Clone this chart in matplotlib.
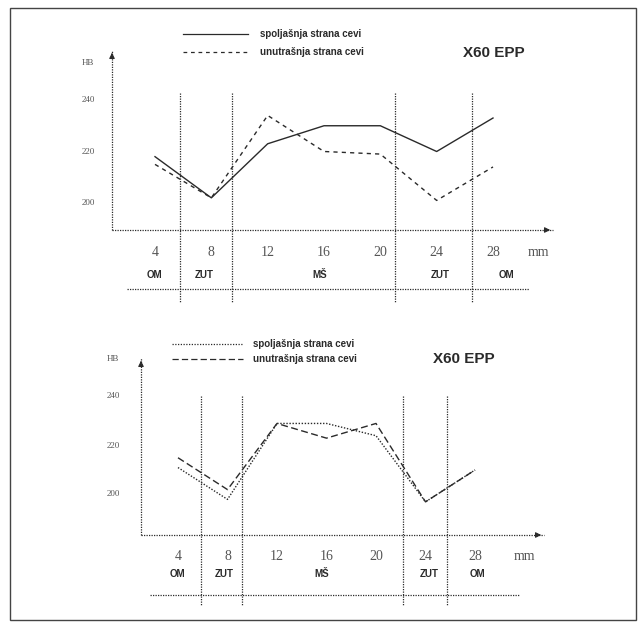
import matplotlib
matplotlib.use("Agg")
import matplotlib.pyplot as plt
from matplotlib.patches import Rectangle

W, H = 643, 626

# data
mm = [4, 8, 12, 16, 20, 24, 28]
top_outer = [218, 202, 223, 230, 230, 220, 233]
top_inner = [215, 202, 234, 220, 219, 201, 214]
bot_outer = [211, 198, 229, 229, 224, 197, 210]
bot_inner = [215, 202, 229, 223, 229, 197, 210]
hb_ticks = [240, 220, 200]
top_hb_labels = ["240", "220", "200"]
bot_hb_labels = ["240", "220", "200"]
zones = ["OM", "ZUT", "MŠ", "ZUT", "OM"]
legend_labels = ["spoljašnja strana cevi", "unutrašnja strana cevi"]
title = "X60 EPP"

INK = "#2a2a2a"
GREY = "#555555"

# pixel layout of the two panels (y measured from top of the image)
top_lay = dict(x4=155, x28=493, y240=100, y200=203,
               yaxis_x=112, yaxis_top=50, xaxis_y=230, xaxis_end=553,
               vlines=[180, 232, 395, 472], vl_top=93, vl_bot=303,
               tick_y=252, zone_y=275, zone_x=[154, 204, 320, 440, 506],
               table=(127, 529, 289), hb_x=88, hb_y=63, mm_x=538,
               leg_x=(183, 248), leg_y=(34, 52), leg_tx=260,
               title_x=463, title_y=53)
bot_lay = dict(x4=178, x28=475, y240=396.5, y200=494.5,
               yaxis_x=141, yaxis_top=358, xaxis_y=535, xaxis_end=544,
               vlines=[201, 242, 403, 447], vl_top=396, vl_bot=606,
               tick_y=556, zone_y=574, zone_x=[177, 224, 322, 429, 477],
               table=(150, 519, 595), hb_x=113, hb_y=359, mm_x=524,
               leg_x=(172, 243), leg_y=(344, 359), leg_tx=253,
               title_x=433, title_y=359)


def draw_panel(fig, lay, outer, inner, styles, hb_labels):
    b = (lay["x28"] - lay["x4"]) / 24.0
    a = lay["x4"] - 4 * b
    d = (lay["y200"] - lay["y240"]) / 40.0
    c = lay["y200"] + 200 * d

    def X(px):
        return (px - a) / b

    def Y(py):
        return (c - py) / d

    ax = fig.add_axes([0, 0, 1, 1])
    ax.set_xlim(X(0), X(W))
    ax.set_ylim(Y(H), Y(0))
    ax.axis("off")
    ax.patch.set_alpha(0)

    dot = dict(color=INK, lw=0.9, ls=(0, (1, 1)))

    # axes
    ax.plot([X(lay["yaxis_x"])] * 2, [Y(lay["xaxis_y"]), Y(lay["yaxis_top"])], **dot)
    ax.plot([X(lay["yaxis_x"]), X(lay["xaxis_end"])], [Y(lay["xaxis_y"])] * 2, **dot)
    ax.annotate("", xy=(X(lay["yaxis_x"]), Y(lay["yaxis_top"])),
                xytext=(X(lay["yaxis_x"]), Y(lay["yaxis_top"] + 8)),
                arrowprops=dict(arrowstyle="-|>", color=INK, lw=0.8,
                                mutation_scale=8))
    ax.annotate("", xy=(X(lay["xaxis_end"]), Y(lay["xaxis_y"])),
                xytext=(X(lay["xaxis_end"] - 10), Y(lay["xaxis_y"])),
                arrowprops=dict(arrowstyle="-|>", color=INK, lw=0.8,
                                mutation_scale=8))

    # zone boundaries and table rule
    for v in lay["vlines"]:
        ax.plot([X(v)] * 2, [Y(lay["vl_top"]), Y(lay["vl_bot"])], **dot)
    x0, x1, ty = lay["table"]
    ax.plot([X(x0), X(x1)], [Y(ty)] * 2, **dot)

    # series
    ax.plot(mm, outer, color=INK, lw=1.0, ls=styles[0])
    ax.plot(mm, inner, color=INK, lw=1.0, ls=styles[1])

    # y labels
    ax.text(X(lay["hb_x"]), Y(lay["hb_y"]), "HB", fontsize=6.5,
            family="Liberation Serif", color=GREY, ha="center", va="center")
    for v, s in zip(hb_ticks, hb_labels):
        ax.text(X(lay["hb_x"]), v, s, fontsize=6.5, family="Liberation Serif",
                color=GREY, ha="center", va="center")

    # x labels
    for m in mm:
        ax.text(m, Y(lay["tick_y"]), str(m), fontsize=10,
                family="Liberation Serif", color=GREY, ha="center", va="center")
    ax.text(X(lay["mm_x"]), Y(lay["tick_y"]), "mm", fontsize=10,
            family="Liberation Serif", color=GREY, ha="center", va="center")
    for zx, z in zip(lay["zone_x"], zones):
        ax.text(X(zx), Y(lay["zone_y"]), z, fontsize=7, fontweight="bold",
                family="Liberation Sans", color=INK, ha="center", va="center")

    # legend and title
    for ly, st, lab in zip(lay["leg_y"], styles, legend_labels):
        ax.plot([X(lay["leg_x"][0]), X(lay["leg_x"][1])], [Y(ly)] * 2,
                color=INK, lw=0.9, ls=st)
        ax.text(X(lay["leg_tx"]), Y(ly), lab, fontsize=7, fontweight="bold",
                family="Liberation Sans", color=INK, ha="left", va="center")
    ax.text(X(lay["title_x"]), Y(lay["title_y"]), title, fontsize=11,
            fontweight="bold", family="Liberation Sans", color=INK,
            ha="left", va="center")


fig = plt.figure(figsize=(W / 100, H / 100), dpi=100)
fig.patch.set_facecolor("white")

draw_panel(fig, top_lay, top_outer, top_inner,
           ["-", (0, (3, 3))], top_hb_labels)
draw_panel(fig, bot_lay, bot_outer, bot_inner,
           [(0, (1, 1.2)), (0, (5, 2.5))], bot_hb_labels)

# scanned page frame
fig.add_artist(Rectangle((10 / W, 1 - 620 / H), 626 / W, 612 / H,
                         transform=fig.transFigure, fill=False,
                         edgecolor="#444444", lw=1.0))

fig.savefig("out.png", dpi=100)
